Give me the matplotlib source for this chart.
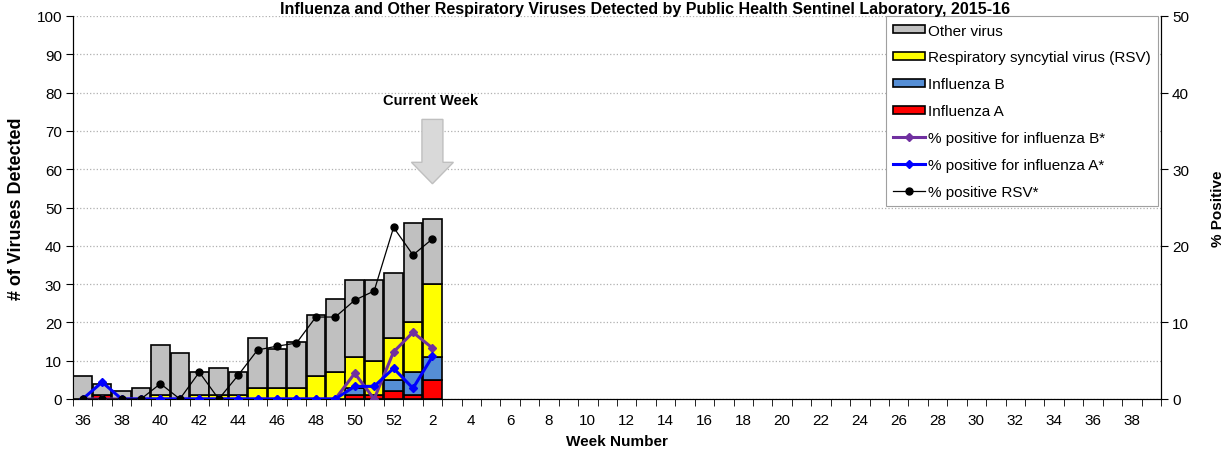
import matplotlib
matplotlib.use("Agg")
import matplotlib.pyplot as plt
import numpy as np
from matplotlib.patches import FancyArrow

plt.rcParams['font.family'] = ['Liberation Sans', 'DejaVu Sans']

# ---------------- data ----------------
week_labels = [str(w) for w in range(36, 53)] + [str(w) for w in range(1, 40)]
influenza_a = [0, 1, 0, 0, 0, 0, 0, 0, 0, 0, 0, 0, 0, 0, 1, 1, 2, 1, 5]
influenza_b = [0, 0, 0, 0, 0, 0, 0, 0, 0, 0, 0, 0, 0, 0, 2, 0, 3, 6, 6]
rsv = [0, 0, 0, 0, 1, 0, 1, 1, 1, 3, 3, 3, 6, 7, 8, 9, 11, 13, 19]
other_virus = [6, 3, 2, 3, 13, 12, 6, 7, 6, 13, 10, 12, 16, 19, 20, 21, 17, 26, 17]
pct_flu_b = [0, 0, 0, 0, 0, 0, 0, 0, 0, 0, 0, 0, 0, 0, 3.35, 0, 6.15, 8.7, 6.65]
pct_flu_a = [0, 2.2, 0, 0, 0, 0, 0, 0, 0, 0, 0, 0, 0, 0, 1.65, 1.65, 4.0, 1.4, 5.55]
pct_rsv = [0, 0, 0, 0, 2.0, 0, 3.5, 0, 3.1, 6.4, 6.9, 7.3, 10.7, 10.7, 12.9, 14.1, 22.4, 18.8, 20.9]
current_week = "2"
title = "Influenza and Other Respiratory Viruses Detected by Public Health Sentinel Laboratory, 2015-16"

# ---------------- figure ----------------
W, H = 1228, 456
fig = plt.figure(figsize=(W / 100, H / 100), dpi=100)
L, R, T, B = 73, 1161, 17, 400
ax = fig.add_axes([L / W, 1 - B / H, (R - L) / W, (B - T) / H])
ax2 = ax.twinx()

n = len(influenza_a)
x = np.arange(n)
fa = np.array(influenza_a)
fb = np.array(influenza_b)
rs = np.array(rsv)
ot = np.array(other_virus)

bw = 0.95
ekw = dict(edgecolor='black', linewidth=1.2, width=bw, zorder=3)
b_a = ax.bar(x, fa, color='#FF0000', label='Influenza A', **ekw)
b_b = ax.bar(x, fb, bottom=fa, color='#558ED5', label='Influenza B', **ekw)
b_r = ax.bar(x, rs, bottom=fa + fb, color='#FFFF00', label='Respiratory syncytial virus (RSV)', **ekw)
b_o = ax.bar(x, ot, bottom=fa + fb + rs, color='#C0C0C0', label='Other virus', **ekw)

ax.set_xlim(-0.5, len(week_labels) - 0.5)
ax.set_ylim(0, 100)
ax.set_yticks(np.arange(0, 101, 10))
ax.yaxis.grid(True, color='#B0B0B0', linestyle=':', linewidth=0.9)
ax.set_axisbelow(True)

ax.set_xticks(np.arange(0, len(week_labels), 2))
ax.set_xticklabels(week_labels[::2])
ax.set_xticks(np.arange(-0.5, len(week_labels), 1), minor=True)
ax.tick_params(axis='x', which='major', length=0, labelsize=11, pad=10)
ax.tick_params(axis='x', which='minor', length=5, direction='out', color='black')
ax.tick_params(axis='y', length=5, direction='out', labelsize=11, pad=3)

ax.spines['top'].set_visible(False)
ax2.spines['top'].set_visible(False)
for s in ['left', 'bottom']:
    ax.spines[s].set_color('black')
ax2.spines['right'].set_color('black')

ax.set_ylabel('# of Viruses Detected', fontsize=13, fontweight='bold', labelpad=8)
ax.set_xlabel('Week Number', fontsize=11, fontweight='bold', labelpad=5)

# lines on right axis
ax2.set_ylim(0, 50)
ax2.set_yticks(np.arange(0, 51, 10))
ax2.tick_params(axis='y', length=5, direction='out', labelsize=11, pad=3)
ax2.set_ylabel('% Positive', fontsize=11, fontweight='bold', labelpad=16)

l_b, = ax2.plot(x, pct_flu_b, color='#7030A0', linewidth=2.2, marker='D', markersize=4.5,
                label='% positive for influenza B*', zorder=4)
l_a, = ax2.plot(x, pct_flu_a, color='#0000FF', linewidth=2.2, marker='D', markersize=4,
                label='% positive for influenza A*', zorder=5)
l_r, = ax2.plot(x, pct_rsv, color='black', linewidth=0.9, marker='o', markersize=5,
                label='% positive RSV*', zorder=6)

# current week arrow + label
ci = week_labels.index(current_week)
arrow = FancyArrow(ci, 73, 0, -16.8, width=1.08, head_width=2.16, head_length=5.6,
                   length_includes_head=True, facecolor='#D9D9D9', edgecolor='#BFBFBF',
                   linewidth=1, zorder=6)
ax.add_patch(arrow)
ax.text(ci - 0.1, 78, 'Current Week', ha='center', va='center', fontsize=10.5,
        fontweight='bold', zorder=6)

# legend
handles = [b_o, b_r, b_b, b_a, l_b, l_a, l_r]
labels = [h.get_label() for h in handles]
leg = ax2.legend(handles, labels, loc='upper right', bbox_to_anchor=(1 - 3 / (R - L), 1.0),
                 borderaxespad=0, fontsize=11, frameon=True, fancybox=False,
                 edgecolor='#A0A0A0', facecolor='white', framealpha=1,
                 handlelength=2.1, handleheight=0.45, handletextpad=0.15,
                 labelspacing=0.84, borderpad=0.5)
leg.get_frame().set_linewidth(0.8)
leg.set_zorder(10)

fig.text(0.525, 1 - 14 / H, title, ha='center', va='baseline', fontsize=11.5, fontweight='bold')

fig.savefig('out.png', dpi=100)
